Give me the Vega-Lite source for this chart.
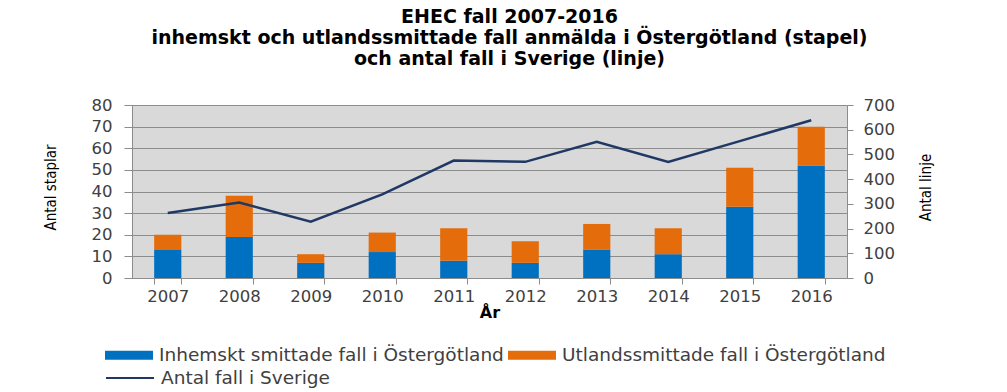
{
  "$schema": "https://vega.github.io/schema/vega-lite/v6.json",
  "width": 715,
  "height": 173,
  "autosize": {"type": "none"},
  "padding": {"left": 132, "top": 105, "right": 160, "bottom": 114},
  "background": "white",
  "title": {
    "text": ["EHEC fall  2007-2016", "inhemskt och utlandssmittade fall anmälda i Östergötland (stapel)", "och antal fall i Sverige  (linje)"],
    "font": "DejaVu Sans",
    "fontSize": 19,
    "fontWeight": "bold",
    "lineHeight": 21,
    "color": "#000000",
    "anchor": "middle",
    "dx": 20,
    "offset": 28
  },
  "config": {
    "view": {"fill": "#d9d9d9", "stroke": null},
    "axis": {
      "labelFont": "DejaVu Sans",
      "labelFontSize": 16.5,
      "labelColor": "#404040",
      "domainColor": "#8c8c8c",
      "tickColor": "#8c8c8c",
      "gridColor": "#8c8c8c",
      "gridOpacity": 1
    }
  },
  "datasets": {
    "bars": [
      {"year": "2007", "typ": "Inhemskt smittade fall i Östergötland", "antal": 13},
      {"year": "2007", "typ": "Utlandssmittade fall i Östergötland", "antal": 7},
      {"year": "2008", "typ": "Inhemskt smittade fall i Östergötland", "antal": 19},
      {"year": "2008", "typ": "Utlandssmittade fall i Östergötland", "antal": 19},
      {"year": "2009", "typ": "Inhemskt smittade fall i Östergötland", "antal": 7},
      {"year": "2009", "typ": "Utlandssmittade fall i Östergötland", "antal": 4},
      {"year": "2010", "typ": "Inhemskt smittade fall i Östergötland", "antal": 12},
      {"year": "2010", "typ": "Utlandssmittade fall i Östergötland", "antal": 9},
      {"year": "2011", "typ": "Inhemskt smittade fall i Östergötland", "antal": 8},
      {"year": "2011", "typ": "Utlandssmittade fall i Östergötland", "antal": 15},
      {"year": "2012", "typ": "Inhemskt smittade fall i Östergötland", "antal": 7},
      {"year": "2012", "typ": "Utlandssmittade fall i Östergötland", "antal": 10},
      {"year": "2013", "typ": "Inhemskt smittade fall i Östergötland", "antal": 13},
      {"year": "2013", "typ": "Utlandssmittade fall i Östergötland", "antal": 12},
      {"year": "2014", "typ": "Inhemskt smittade fall i Östergötland", "antal": 11},
      {"year": "2014", "typ": "Utlandssmittade fall i Östergötland", "antal": 12},
      {"year": "2015", "typ": "Inhemskt smittade fall i Östergötland", "antal": 33},
      {"year": "2015", "typ": "Utlandssmittade fall i Östergötland", "antal": 18},
      {"year": "2016", "typ": "Inhemskt smittade fall i Östergötland", "antal": 52},
      {"year": "2016", "typ": "Utlandssmittade fall i Östergötland", "antal": 18}
    ],
    "line": [
      {"year": "2007", "serie": "Antal fall i Sverige", "fall": 263},
      {"year": "2008", "serie": "Antal fall i Sverige", "fall": 305},
      {"year": "2009", "serie": "Antal fall i Sverige", "fall": 228},
      {"year": "2010", "serie": "Antal fall i Sverige", "fall": 338},
      {"year": "2011", "serie": "Antal fall i Sverige", "fall": 475},
      {"year": "2012", "serie": "Antal fall i Sverige", "fall": 470},
      {"year": "2013", "serie": "Antal fall i Sverige", "fall": 551},
      {"year": "2014", "serie": "Antal fall i Sverige", "fall": 470},
      {"year": "2015", "serie": "Antal fall i Sverige", "fall": 554},
      {"year": "2016", "serie": "Antal fall i Sverige", "fall": 638}
    ]
  },
  "encoding": {
    "x": {
      "field": "year",
      "type": "ordinal",
      "scale": {"paddingInner": 0.62, "paddingOuter": 0.31},
      "axis": {
        "title": "År",
        "titleFont": "DejaVu Sans",
        "titleFontSize": 16,
        "titleFontWeight": "bold",
        "titleColor": "#000000",
        "titlePadding": 0,
        "labelAngle": 0,
        "labelPadding": 4,
        "tickBand": "extent",
        "tickSize": 6,
        "grid": false
      }
    }
  },
  "layer": [
    {
      "data": {"name": "bars"},
      "mark": {"type": "bar"},
      "encoding": {
        "y": {
          "field": "antal",
          "type": "quantitative",
          "aggregate": "sum",
          "scale": {"domain": [0, 80], "nice": false},
          "axis": {
            "title": "Antal staplar",
            "titleFont": "DejaVu Sans Condensed",
            "titleFontSize": 15,
            "titleFontWeight": "normal",
            "titleColor": "#000000",
            "titleAngle": 270,
            "titleX": -82,
            "titleY": 82,
            "titleAlign": "center",
            "titleBaseline": "middle",
            "values": [0, 10, 20, 30, 40, 50, 60, 70, 80],
            "tickSize": 8,
            "labelPadding": 12,
            "grid": true
          }
        },
        "fill": {
          "field": "typ",
          "type": "nominal",
          "scale": {"domain": ["Inhemskt smittade fall i Östergötland", "Utlandssmittade fall i Östergötland"], "range": ["#0070c0", "#e46c0a"]},
          "legend": {
            "title": null,
            "orient": "none",
            "direction": "horizontal",
            "legendX": -27,
            "legendY": 226,
            "padding": 0,
            "symbolType": "M-1,-0.19 h2 v0.38 h-2 z",
            "symbolSize": 2304,
            "symbolStrokeWidth": 0,
            "symbolOpacity": 1,
            "labelFont": "DejaVu Sans",
            "labelFontSize": 18.5,
            "labelColor": "#404040",
            "labelOffset": 6,
            "labelLimit": 500,
            "columnPadding": 4
          }
        },
        "order": {"field": "typ", "sort": "ascending"}
      }
    },
    {
      "data": {"name": "line"},
      "mark": {"type": "line", "strokeWidth": 2.5},
      "encoding": {
        "y": {
          "field": "fall",
          "type": "quantitative",
          "scale": {"domain": [0, 700], "nice": false},
          "axis": {
            "orient": "right",
            "title": "Antal linje",
            "titleFont": "DejaVu Sans Condensed",
            "titleFontSize": 15,
            "titleFontWeight": "normal",
            "titleColor": "#000000",
            "titleAngle": 270,
            "titleX": 78,
            "titleY": 82,
            "titleAlign": "center",
            "titleBaseline": "middle",
            "values": [0, 100, 200, 300, 400, 500, 600, 700],
            "tickSize": 6,
            "labelPadding": 10,
            "grid": false
          }
        },
        "stroke": {
          "field": "serie",
          "type": "nominal",
          "scale": {"range": ["#1f3864"]},
          "legend": {
            "title": null,
            "orient": "none",
            "legendX": -27,
            "legendY": 248,
            "padding": 0,
            "symbolType": "stroke",
            "symbolSize": 2304,
            "symbolStrokeWidth": 2,
            "labelFont": "DejaVu Sans",
            "labelFontSize": 18.5,
            "labelColor": "#404040",
            "labelOffset": 6,
            "labelLimit": 500
          }
        }
      }
    }
  ],
  "resolve": {"scale": {"y": "independent"}}
}
